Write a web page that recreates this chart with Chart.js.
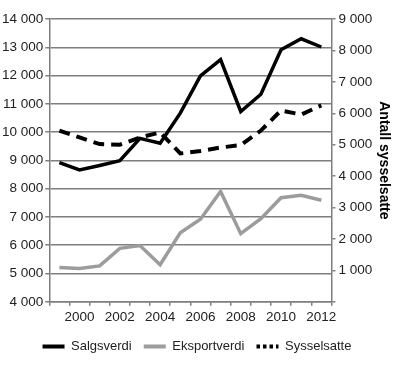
<!DOCTYPE html>
<html>
<head>
<meta charset="utf-8">
<script src="https://cdn.jsdelivr.net/npm/chart.js@4"></script>
<style>
  html, body { margin: 0; padding: 0; background: #fff; }
  #wrap { width: 400px; height: 365px; }
</style>
</head>
<body>
<div id="wrap"><canvas id="chart" width="400" height="365"></canvas></div>
<script>
const years = ["1999", "2000", "2001", "2002", "2003", "2004", "2005", "2006", "2007", "2008", "2009", "2010", "2011", "2012"];
const salgsverdi = [8920, 8660, 8820, 8990, 9780, 9610, 10670, 11990, 12560, 10730, 11340, 12910, 13300, 13010];
const eksportverdi = [5210, 5180, 5270, 5890, 5990, 5310, 6440, 6920, 7900, 6410, 6940, 7680, 7770, 7590];
const sysselsatte = [5450, 5230, 5020, 5000, 5230, 5390, 4720, 4800, 4910, 4990, 5450, 6090, 5960, 6250];

const fmt = (v) => String(v).replace(/\B(?=(\d{3})+(?!\d))/g, " ");
const font = { family: "'Liberation Sans', Arial, sans-serif", size: 13.5 };
const ink = "#222";
const gridGrey = "#7e7e7e";

new Chart(document.getElementById("chart"), {
  type: "line",
  data: {
    labels: years,
    datasets: [
      {
        label: "Salgsverdi",
        data: salgsverdi,
        yAxisID: "y",
        borderColor: "#000",
        backgroundColor: "#000",
        borderWidth: 3.5,
        pointRadius: 0,
        tension: 0,
      },
      {
        label: "Eksportverdi",
        data: eksportverdi,
        yAxisID: "y",
        borderColor: "#9c9c9c",
        backgroundColor: "#9c9c9c",
        borderWidth: 3.5,
        pointRadius: 0,
        tension: 0,
      },
      {
        label: "Sysselsatte",
        data: sysselsatte,
        yAxisID: "y1",
        borderColor: "#000",
        backgroundColor: "#000",
        borderWidth: 4,
        borderDash: [11, 7],
        pointRadius: 0,
        tension: 0,
      },
    ],
  },
  options: {
    responsive: false,
    animation: false,
    layout: { padding: { left: 0, right: 6, top: 19, bottom: 2 } },
    plugins: {
      legend: {
        position: "bottom",
        labels: {
          color: ink,
          font: { family: font.family, size: 13 },
          usePointStyle: true,
          pointStyle: "line",
          pointStyleWidth: 22,
          padding: 12,
          generateLabels: function (chart) {
            const items = Chart.defaults.plugins.legend.labels.generateLabels(chart);
            items.forEach((item) => {
              const ds = chart.data.datasets[item.datasetIndex];
              item.lineWidth = 4;
              item.lineDash = ds.borderDash ? [3.5, 3] : [];
            });
            return items;
          },
        },
      },
      tooltip: { enabled: false },
    },
    scales: {
      x: {
        offset: true,
        grid: {
          offset: true,
          drawOnChartArea: false,
          tickLength: 4,
          color: gridGrey,
          lineWidth: 1.5,
        },
        border: { color: gridGrey, width: 1.5 },
        ticks: {
          color: ink,
          font: font,
          autoSkip: false,
          maxRotation: 0,
          padding: 3,
          callback: function (value, index) {
            return index % 2 === 1 ? years[index] : "";
          },
        },
      },
      y: {
        position: "left",
        min: 4000,
        max: 14000,
        grid: { color: gridGrey, lineWidth: 1.5, tickLength: 4 },
        border: { color: gridGrey, width: 1.5 },
        ticks: {
          stepSize: 1000,
          color: ink,
          font: font,
          padding: 2,
          callback: (v) => fmt(v),
        },
      },
      y1: {
        position: "right",
        min: 0,
        max: 9000,
        grid: { drawOnChartArea: false, color: gridGrey, lineWidth: 1.5, tickLength: 4 },
        border: { color: gridGrey, width: 1.5 },
        ticks: {
          stepSize: 1000,
          color: ink,
          font: font,
          padding: 3,
          callback: (v) => (v === 0 ? "" : fmt(v)),
        },
        title: {
          display: true,
          text: "Antall sysselsatte",
          color: "#000",
          font: { family: font.family, size: 14, weight: "bold" },
          padding: { top: 2, bottom: 0 },
        },
      },
    },
  },
});
</script>
</body>
</html>
